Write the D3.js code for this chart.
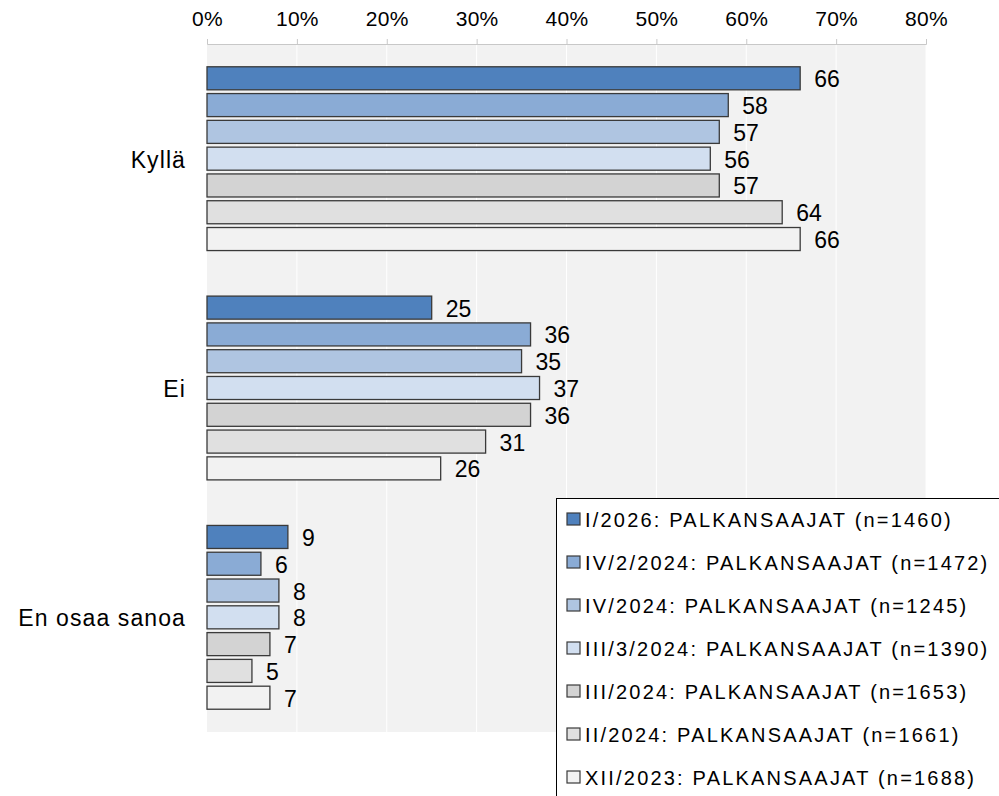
<!DOCTYPE html>
<html>
  <head>
    <meta charset="utf-8">
    <title>Kyllä / Ei / En osaa sanoa</title>
    <style>
      body {
        margin: 0;
        padding: 0;
        overflow: hidden;
        background: #fff;
      }
      svg {
        display: block;
        font-family: "Liberation Sans", Arial, sans-serif;
      }
    </style>
    <script src="https://cdn.jsdelivr.net/npm/d3@7/dist/d3.min.js"></script>
  </head>
  <body>
    <svg width="999" height="796"></svg>
    <script>
      // Datos
      const categories = ['Kyllä', 'Ei', 'En osaa sanoa'];
      const seriesNames = [
        'I/2026: PALKANSAAJAT (n=1460)',
        'IV/2/2024: PALKANSAAJAT (n=1472)',
        'IV/2024: PALKANSAAJAT (n=1245)',
        'III/3/2024: PALKANSAAJAT (n=1390)',
        'III/2024: PALKANSAAJAT (n=1653)',
        'II/2024: PALKANSAAJAT (n=1661)',
        'XII/2023: PALKANSAAJAT (n=1688)'
      ];
      // valores por serie, en el orden de categories
      const values = [
        [66, 25, 9],
        [58, 36, 6],
        [57, 35, 8],
        [56, 37, 8],
        [57, 36, 7],
        [64, 31, 5],
        [66, 26, 7]
      ];
      const ticks = [0, 10, 20, 30, 40, 50, 60, 70, 80];

      const colors = ['#4f81bd', '#8aabd5', '#afc5e1', '#d2dff0', '#d3d3d3', '#e0e0e0', '#f2f2f2'];

      const svg = d3.select('svg');
      const plot = {left: 207, right: 926, top: 44, bottom: 732};

      const x = d3.scaleLinear().domain([0, 80]).range([plot.left, plot.right]);
      const y = d3.scaleBand().domain(categories).range([plot.top, plot.bottom]);
      const yInner = d3.scaleBand()
        .domain(d3.range(seriesNames.length))
        .range([0, y.bandwidth()])
        .paddingInner(0.14)
        .paddingOuter(0.85);

      // Fondo gris del área
      svg.append('rect')
        .attr('x', plot.left)
        .attr('y', plot.top)
        .attr('width', plot.right - plot.left)
        .attr('height', plot.bottom - plot.top)
        .attr('fill', '#f2f2f2');

      // Líneas de cuadrícula
      svg.append('g')
        .selectAll('line')
        .data(ticks.slice(1))
        .enter()
        .append('line')
        .attr('x1', d => x(d))
        .attr('x2', d => x(d))
        .attr('y1', plot.top)
        .attr('y2', plot.bottom)
        .attr('stroke', '#fff')
        .attr('stroke-width', 1);

      // Eje superior
      const axis = svg.append('g')
        .attr('transform', `translate(0,${plot.top})`)
        .call(d3.axisTop(x).tickValues(ticks).tickFormat(d => d + '%').tickSize(5).tickPadding(13));
      axis.select('.domain').attr('stroke', '#c8c8c8');
      axis.selectAll('.tick line').attr('stroke', '#c8c8c8');
      axis.selectAll('.tick text')
        .attr('font-size', 21)
        .attr('letter-spacing', 0.3)
        .attr('fill', '#000')
        .attr('font-family', '"Liberation Sans", Arial, sans-serif');

      // Barras
      const groups = svg.selectAll('g.cat')
        .data(categories)
        .enter()
        .append('g')
        .attr('class', 'cat')
        .attr('transform', d => `translate(0,${y(d)})`);

      groups.selectAll('rect')
        .data((d, ci) => values.map((s, si) => ({si, v: s[ci]})))
        .enter()
        .append('rect')
        .attr('x', x(0))
        .attr('y', d => yInner(d.si))
        .attr('width', d => x(d.v) - x(0))
        .attr('height', yInner.bandwidth())
        .attr('fill', d => colors[d.si])
        .attr('stroke', '#3a3a3a')
        .attr('stroke-width', 1.3);

      // Etiquetas de valores
      groups.selectAll('text.val')
        .data((d, ci) => values.map((s, si) => ({si, v: s[ci]})))
        .enter()
        .append('text')
        .attr('class', 'val')
        .attr('x', d => x(d.v) + 14)
        .attr('y', d => yInner(d.si) + yInner.bandwidth() / 2 + 1)
        .attr('dominant-baseline', 'central')
        .attr('font-size', 23)
        .text(d => d.v);

      // Etiquetas de categorías
      svg.append('g')
        .selectAll('text')
        .data(categories)
        .enter()
        .append('text')
        .attr('x', 186)
        .attr('y', d => y(d) + y.bandwidth() / 2 + 1)
        .attr('text-anchor', 'end')
        .attr('dominant-baseline', 'central')
        .attr('font-size', 23)
        .attr('letter-spacing', 1.1)
        .text(d => d);

      // Leyenda
      const legend = svg.append('g').attr('transform', 'translate(556,498)');
      legend.append('rect')
        .attr('x', 0.5)
        .attr('y', 0.5)
        .attr('width', 460)
        .attr('height', 320)
        .attr('fill', '#fff')
        .attr('stroke', '#000')
        .attr('stroke-width', 1);

      const items = legend.selectAll('g.item')
        .data(seriesNames)
        .enter()
        .append('g')
        .attr('class', 'item')
        .attr('transform', (d, i) => `translate(0,${21 + i * 43})`);

      items.append('rect')
        .attr('x', 11)
        .attr('y', -6)
        .attr('width', 13)
        .attr('height', 12)
        .attr('fill', (d, i) => colors[i])
        .attr('stroke', '#3a3a3a')
        .attr('stroke-width', 1.2);

      items.append('text')
        .attr('x', 29)
        .attr('y', 1)
        .attr('dominant-baseline', 'central')
        .attr('font-size', 20)
        .attr('letter-spacing', 2.2)
        .text(d => d);
    </script>
  </body>
</html>
